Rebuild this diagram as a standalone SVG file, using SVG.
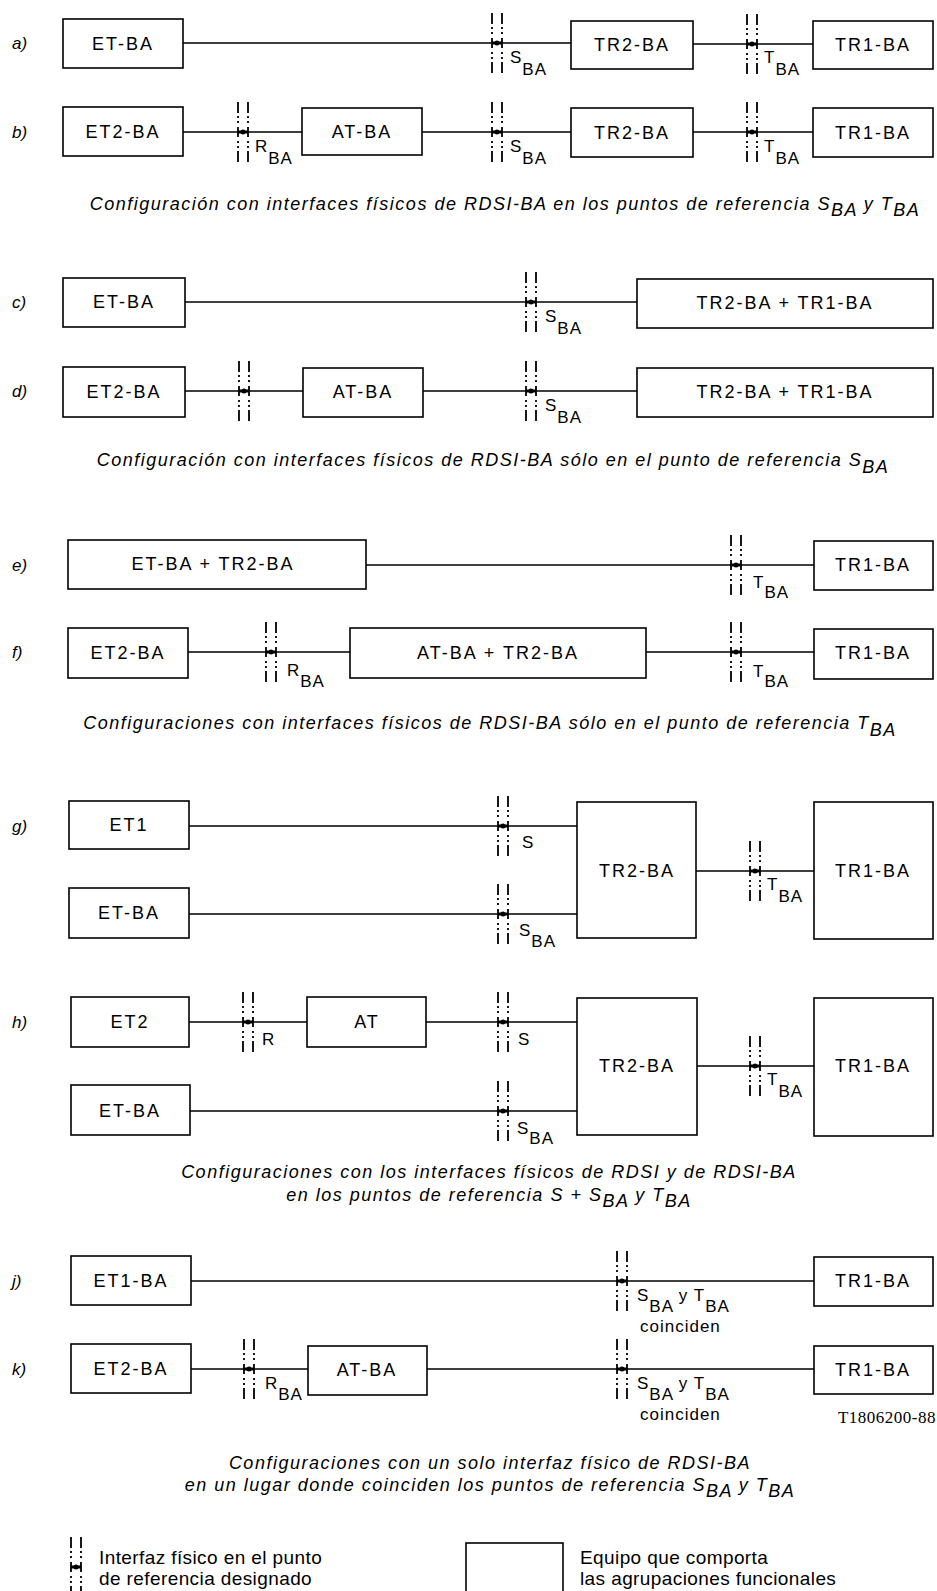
<svg xmlns="http://www.w3.org/2000/svg" width="937" height="1591" viewBox="0 0 937 1591">
<style>
.bx{fill:#fff;stroke:#000;stroke-width:1.6}
.ln{stroke:#000;stroke-width:1.5;fill:none}
.t{font-family:"Liberation Sans",Arial,sans-serif;font-size:18px;letter-spacing:2px;fill:#000}
.c{text-anchor:middle}
.lb{font-family:"Liberation Sans",Arial,sans-serif;font-size:17px;letter-spacing:1px;fill:#000}
.rl{font-family:"Liberation Sans",Arial,sans-serif;font-size:17px;font-style:italic;fill:#000}
.cap{font-family:"Liberation Sans",Arial,sans-serif;font-size:18px;font-style:italic;letter-spacing:1.5px;fill:#000;text-anchor:middle}
.lg{font-family:"Liberation Sans",Arial,sans-serif;font-size:19px;letter-spacing:0.4px;fill:#000}
.fig{font-family:"Liberation Serif","Times New Roman",serif;font-size:17px;letter-spacing:0.5px;fill:#000;text-anchor:end}
</style>
<defs>
<g id="ifc">
<path d="M-5,-30V30M5,-30V30" stroke="#000" stroke-width="1.8" fill="none" stroke-dasharray="11 3 2 3 2 4 10 4 2 3 2 3 11 40"/>
<path d="M-5,0H5" stroke="#000" stroke-width="3"/>
<circle r="2.5" fill="#000"/>
</g>
</defs>

<g id="row-labels">
<text class="rl" x="12" y="49">a)</text>
<text class="rl" x="12" y="138">b)</text>
<text class="rl" x="12" y="308">c)</text>
<text class="rl" x="12" y="397">d)</text>
<text class="rl" x="12" y="571">e)</text>
<text class="rl" x="12" y="658">f)</text>
<text class="rl" x="12" y="832">g)</text>
<text class="rl" x="12" y="1028">h)</text>
<text class="rl" x="12" y="1287">j)</text>
<text class="rl" x="12" y="1375">k)</text>
</g>

<g id="connectors">
<path class="ln" d="M183,43H571M693,44H813"/>
<path class="ln" d="M183,132H302M422,132H571M693,132H813"/>
<path class="ln" d="M185,302H637"/>
<path class="ln" d="M185,391H303M423,391H637"/>
<path class="ln" d="M366,565H814"/>
<path class="ln" d="M188,652H350M646,652H814"/>
<path class="ln" d="M189,826H577M189,914H577M696,871H814"/>
<path class="ln" d="M189,1022H307M426,1022H577M190,1111H577M697,1066H814"/>
<path class="ln" d="M191,1281H814"/>
<path class="ln" d="M191,1369H308M427,1369H814"/>
</g>

<g id="interfaces">
<use href="#ifc" x="497" y="43"/>
<use href="#ifc" x="752" y="44"/>
<use href="#ifc" x="243" y="132"/>
<use href="#ifc" x="497" y="132"/>
<use href="#ifc" x="752" y="132"/>
<use href="#ifc" x="531" y="302"/>
<use href="#ifc" x="244" y="391"/>
<use href="#ifc" x="531" y="391"/>
<use href="#ifc" x="736" y="565"/>
<use href="#ifc" x="271" y="652"/>
<use href="#ifc" x="736" y="652"/>
<use href="#ifc" x="503" y="826"/>
<use href="#ifc" x="503" y="914"/>
<use href="#ifc" x="755" y="871"/>
<use href="#ifc" x="248" y="1022"/>
<use href="#ifc" x="503" y="1022"/>
<use href="#ifc" x="503" y="1111"/>
<use href="#ifc" x="755" y="1066"/>
<use href="#ifc" x="622" y="1281"/>
<use href="#ifc" x="249" y="1369"/>
<use href="#ifc" x="622" y="1369"/>
</g>

<g id="ref-labels">
<text class="lb" x="510" y="63">S<tspan dy="12">BA</tspan></text>
<text class="lb" x="764" y="63">T<tspan dy="12">BA</tspan></text>
<text class="lb" x="255" y="152">R<tspan dy="12">BA</tspan></text>
<text class="lb" x="510" y="152">S<tspan dy="12">BA</tspan></text>
<text class="lb" x="764" y="152">T<tspan dy="12">BA</tspan></text>
<text class="lb" x="545" y="322">S<tspan dy="12">BA</tspan></text>
<text class="lb" x="545" y="411">S<tspan dy="12">BA</tspan></text>
<text class="lb" x="753" y="588">T<tspan dy="10">BA</tspan></text>
<text class="lb" x="287" y="676">R<tspan dy="11">BA</tspan></text>
<text class="lb" x="753" y="677">T<tspan dy="10">BA</tspan></text>
<text class="lb" x="522" y="848">S</text>
<text class="lb" x="519" y="936">S<tspan dy="11">BA</tspan></text>
<text class="lb" x="767" y="890">T<tspan dy="12">BA</tspan></text>
<text class="lb" x="262" y="1045">R</text>
<text class="lb" x="518" y="1045">S</text>
<text class="lb" x="517" y="1134">S<tspan dy="10">BA</tspan></text>
<text class="lb" x="767" y="1085">T<tspan dy="12">BA</tspan></text>
<text class="lb" x="637" y="1301">S<tspan dy="11">BA</tspan><tspan dy="-11"> y T</tspan><tspan dy="11">BA</tspan></text>
<text class="lb" x="640" y="1332">coinciden</text>
<text class="lb" x="265" y="1389">R<tspan dy="11">BA</tspan></text>
<text class="lb" x="637" y="1389">S<tspan dy="11">BA</tspan><tspan dy="-11"> y T</tspan><tspan dy="11">BA</tspan></text>
<text class="lb" x="640" y="1420">coinciden</text>
<text class="fig" x="936" y="1423">T1806200-88</text>
</g>

<g id="a-et"><rect class="bx" x="63" y="19" width="120" height="49"/><text class="t c" x="123" y="50">ET-BA</text></g>
<g id="a-tr2"><rect class="bx" x="571" y="21" width="122" height="48"/><text class="t c" x="632" y="51">TR2-BA</text></g>
<g id="a-tr1"><rect class="bx" x="813" y="21" width="120" height="48"/><text class="t c" x="873" y="51">TR1-BA</text></g>

<g id="b-et2"><rect class="bx" x="63" y="107" width="120" height="49"/><text class="t c" x="123" y="138">ET2-BA</text></g>
<g id="b-at"><rect class="bx" x="302" y="108" width="120" height="47"/><text class="t c" x="362" y="138">AT-BA</text></g>
<g id="b-tr2"><rect class="bx" x="571" y="108" width="122" height="49"/><text class="t c" x="632" y="139">TR2-BA</text></g>
<g id="b-tr1"><rect class="bx" x="813" y="108" width="120" height="49"/><text class="t c" x="873" y="139">TR1-BA</text></g>

<text class="cap" x="505" y="210">Configuración con interfaces físicos de RDSI-BA en los puntos de referencia S<tspan dy="6">BA</tspan><tspan dy="-6"> y T</tspan><tspan dy="6">BA</tspan></text>

<g id="c-et"><rect class="bx" x="63" y="278" width="122" height="49"/><text class="t c" x="124" y="308">ET-BA</text></g>
<g id="c-tr"><rect class="bx" x="637" y="279" width="296" height="49"/><text class="t c" x="785" y="309">TR2-BA + TR1-BA</text></g>

<g id="d-et2"><rect class="bx" x="63" y="367" width="122" height="50"/><text class="t c" x="124" y="398">ET2-BA</text></g>
<g id="d-at"><rect class="bx" x="303" y="368" width="120" height="49"/><text class="t c" x="363" y="398">AT-BA</text></g>
<g id="d-tr"><rect class="bx" x="637" y="368" width="296" height="49"/><text class="t c" x="785" y="398">TR2-BA + TR1-BA</text></g>

<text class="cap" x="493" y="466">Configuración con interfaces físicos de RDSI-BA sólo en el punto de referencia S<tspan dy="7">BA</tspan></text>

<g id="e-ettr2"><rect class="bx" x="68" y="540" width="298" height="49"/><text class="t c" x="213" y="570">ET-BA + TR2-BA</text></g>
<g id="e-tr1"><rect class="bx" x="814" y="541" width="119" height="49"/><text class="t c" x="873" y="571">TR1-BA</text></g>

<g id="f-et2"><rect class="bx" x="68" y="628" width="120" height="50"/><text class="t c" x="128" y="659">ET2-BA</text></g>
<g id="f-attr2"><rect class="bx" x="350" y="628" width="296" height="50"/><text class="t c" x="498" y="659">AT-BA + TR2-BA</text></g>
<g id="f-tr1"><rect class="bx" x="814" y="629" width="119" height="50"/><text class="t c" x="873" y="659">TR1-BA</text></g>

<text class="cap" x="490" y="729">Configuraciones con interfaces físicos de RDSI-BA sólo en el punto de referencia T<tspan dy="7">BA</tspan></text>

<g id="g-et1"><rect class="bx" x="69" y="801" width="120" height="48"/><text class="t c" x="129" y="831">ET1</text></g>
<g id="g-etba"><rect class="bx" x="69" y="888" width="120" height="50"/><text class="t c" x="129" y="919">ET-BA</text></g>
<g id="g-tr2"><rect class="bx" x="577" y="802" width="119" height="136"/><text class="t c" x="637" y="877">TR2-BA</text></g>
<g id="g-tr1"><rect class="bx" x="814" y="802" width="119" height="137"/><text class="t c" x="873" y="877">TR1-BA</text></g>

<g id="h-et2"><rect class="bx" x="71" y="997" width="118" height="50"/><text class="t c" x="130" y="1028">ET2</text></g>
<g id="h-at"><rect class="bx" x="307" y="997" width="119" height="50"/><text class="t c" x="367" y="1028">AT</text></g>
<g id="h-etba"><rect class="bx" x="71" y="1085" width="119" height="50"/><text class="t c" x="130" y="1117">ET-BA</text></g>
<g id="h-tr2"><rect class="bx" x="577" y="998" width="120" height="137"/><text class="t c" x="637" y="1072">TR2-BA</text></g>
<g id="h-tr1"><rect class="bx" x="814" y="998" width="119" height="138"/><text class="t c" x="873" y="1072">TR1-BA</text></g>

<text class="cap" x="489" y="1178">Configuraciones con los interfaces físicos de RDSI y de RDSI-BA</text>
<text class="cap" x="489" y="1201">en los puntos de referencia S + S<tspan dy="6">BA</tspan><tspan dy="-6"> y T</tspan><tspan dy="6">BA</tspan></text>

<g id="j-et1"><rect class="bx" x="71" y="1256" width="120" height="49"/><text class="t c" x="131" y="1287">ET1-BA</text></g>
<g id="j-tr1"><rect class="bx" x="814" y="1257" width="119" height="49"/><text class="t c" x="873" y="1287">TR1-BA</text></g>

<g id="k-et2"><rect class="bx" x="71" y="1344" width="120" height="49"/><text class="t c" x="131" y="1375">ET2-BA</text></g>
<g id="k-at"><rect class="bx" x="308" y="1346" width="119" height="49"/><text class="t c" x="367" y="1376">AT-BA</text></g>
<g id="k-tr1"><rect class="bx" x="814" y="1346" width="119" height="48"/><text class="t c" x="873" y="1376">TR1-BA</text></g>

<text class="cap" x="490" y="1469">Configuraciones con un solo interfaz físico de RDSI-BA</text>
<text class="cap" x="490" y="1491">en un lugar donde coinciden los puntos de referencia S<tspan dy="6">BA</tspan><tspan dy="-6"> y T</tspan><tspan dy="6">BA</tspan></text>

<g id="legend-ifc"><use href="#ifc" x="76" y="1567"/><text class="lg" x="99" y="1564">Interfaz físico en el punto</text><text class="lg" x="99" y="1585">de referencia designado</text></g>
<g id="legend-box"><rect class="bx" x="466" y="1543" width="97" height="60"/><text class="lg" x="580" y="1564">Equipo que comporta</text><text class="lg" x="580" y="1585">las agrupaciones funcionales</text></g>
</svg>
